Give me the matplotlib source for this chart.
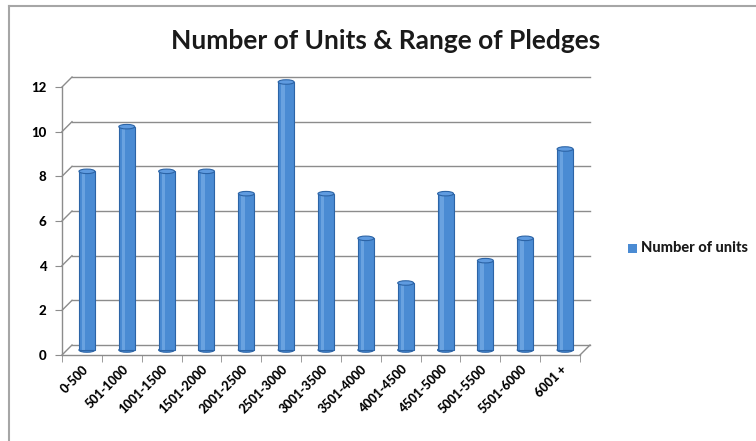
"""
Number of Units & Range of Pledges - Excel style cylinder column chart
"""

import matplotlib
matplotlib.use('Agg')
import matplotlib.pyplot as plt
from matplotlib.patches import Ellipse, Rectangle
from matplotlib.lines import Line2D

plt.rcParams['font.family'] = ['Lato', 'DejaVu Sans']

# Data
categories = ['0-500', '501-1000', '1001-1500', '1501-2000', '2001-2500', '2501-3000',
              '3001-3500', '3501-4000', '4001-4500', '4501-5000', '5001-5500',
              '5501-6000', '6001 +']
units = [8, 10, 8, 8, 7, 12, 7, 5, 3, 7, 4, 5, 9]
y_ticks = [0, 2, 4, 6, 8, 10, 12]
series_name = 'Number of units'

W, H, DPI = 7.56, 4.41, 100
fig = plt.figure(figsize=(W, H), dpi=DPI)

# plot area in pixels: x 62..580, y 87..355 (from top)
left, right, top, bottom = 62, 580, 87, 355
ax = fig.add_axes([left / 756, (441 - bottom) / 441,
                   (right - left) / 756, (bottom - top) / 441])

n = len(categories)
ax.set_xlim(-0.5, n - 0.5)
ax.set_ylim(0, 12)

# 3D depth offset (10 px right, 10 px up) in data units
dx = 10 / ((right - left) / n)
dy = 10 / ((bottom - top) / 12)

grid_col = '#8c8c8c'
for y in y_ticks:
    ax.add_line(Line2D([-0.5 + dx, n - 0.5 + dx], [y + dy, y + dy],
                       color=grid_col, lw=1.0, clip_on=False, zorder=1))
    ax.add_line(Line2D([-0.5, -0.5 + dx], [y, y + dy],
                       color=grid_col, lw=1.0, clip_on=False, zorder=1))
# floor right edge
ax.add_line(Line2D([n - 0.5, n - 0.5 + dx], [0, dy],
                   color=grid_col, lw=1.0, clip_on=False, zorder=1))

# cylinder bars, drawn at mid depth
bw = 0.40
body = '#4a8bd3'
dark = '#2c64a6'
light = '#7fb2ea'
for i, v in enumerate(units):
    cx = i + dx / 2
    base = dy / 2
    ax.add_patch(Rectangle((cx - bw / 2, base), bw, v, facecolor=body,
                           edgecolor=dark, lw=0.8, zorder=3, clip_on=False))
    ax.add_patch(Rectangle((cx - bw / 2 + bw * 0.18, base), bw * 0.22, v,
                           facecolor=light, edgecolor='none', alpha=0.6,
                           zorder=4, clip_on=False))
    ax.add_patch(Ellipse((cx, base + v), bw, dy * 0.45, facecolor='#5f9be0',
                         edgecolor=dark, lw=0.8, zorder=5, clip_on=False))
    ax.add_patch(Ellipse((cx, base), bw, dy * 0.45, facecolor=body,
                         edgecolor=dark, lw=0.8, zorder=2, clip_on=False))

# axes styling
for s in ['top', 'right']:
    ax.spines[s].set_visible(False)
for s in ['left', 'bottom']:
    ax.spines[s].set_color(grid_col)
    ax.spines[s].set_linewidth(1.0)
ax.set_facecolor('none')

ax.set_yticks(y_ticks)
ax.set_yticklabels([str(t) for t in y_ticks], fontsize=9.5, fontweight='black')
ax.tick_params(axis='y', length=5, color=grid_col, pad=6)

ax.set_xticks(range(n))
ax.set_xticklabels(categories, rotation=45, ha='right', rotation_mode='anchor',
                   fontsize=9, fontweight='black')
ax.tick_params(axis='x', which='major', length=0, pad=6)
ax.set_xticks([i - 0.5 for i in range(n + 1)], minor=True)
ax.tick_params(axis='x', which='minor', length=5, color=grid_col)

fig.suptitle('Number of Units & Range of Pledges', x=0.51, y=0.935,
             fontsize=19, fontweight='bold', color='#1a1a1a')

# legend
fig.patches.append(Rectangle((628 / 756, (441 - 253) / 441), 9 / 756, 9 / 441,
                             transform=fig.transFigure, facecolor=body,
                             edgecolor='none'))
fig.text(641 / 756, (441 - 248) / 441, series_name, fontsize=10.5,
         fontweight='black', va='center', ha='left', color='#1a1a1a')

# chart border (top and left visible)
fig.add_artist(Line2D([9 / 756, 1], [1 - 6 / 441, 1 - 6 / 441],
                      transform=fig.transFigure, color='#a6a6a6', lw=1.5))
fig.add_artist(Line2D([9 / 756, 9 / 756], [0, 1 - 6 / 441],
                      transform=fig.transFigure, color='#a6a6a6', lw=1.5))

fig.savefig('out.png', dpi=DPI)
